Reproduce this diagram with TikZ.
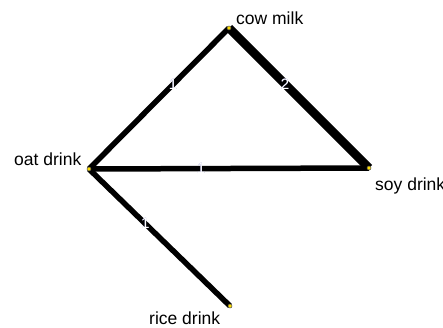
\documentclass[tikz,border=0pt]{standalone}
\usepackage{fontspec}
\setmainfont{Liberation Sans}
\usepackage[outline]{contour}
\contourlength{0.8pt}
\begin{document}
\begin{tikzpicture}[x=1pt,y=-1pt,
  vtx/.style={circle,draw=black!70,fill=yellow!80!orange,inner sep=0pt,minimum size=4pt,line width=0.5pt},
  lbl/.style={font=\fontsize{17.5}{20}\selectfont,inner sep=0pt,anchor=base west},
  e1/.style={line width=5.5pt},
  e2/.style={line width=8.5pt},
  wl/.style={font=\fontsize{15}{17}\selectfont,inner sep=0pt}]
\path[use as bounding box] (0,0) rectangle (443,327);
\clip (0,0) rectangle (443,327);
\coordinate (cow) at (229,28);
\coordinate (oat) at (89,169);
\coordinate (soy) at (369,168);
\coordinate (rice) at (230,306);
\draw[e1] (oat) -- node[wl,pos=0.6]{\contour{gray!60!blue!70}{\textcolor{white}{1}}} (cow);
\draw[e2] (cow) -- node[wl,pos=0.4]{\contour{gray!60!blue!70}{\textcolor{white}{2}}} (soy);
\draw[e1] (oat) -- node[wl,pos=0.4]{\contour{gray!60!blue!70}{\textcolor{white}{1}}} (soy);
\draw[e1] (oat) -- node[wl,pos=0.4]{\contour{gray!60!blue!70}{\textcolor{white}{1}}} (rice);
\node[vtx] (ncow) at (cow) {};
\node[vtx] (noat) at (oat) {};
\node[vtx] (nsoy) at (soy) {};
\node[vtx] (nrice) at (rice) {};
\node[lbl] (tcow) at (236,24) {cow milk};
\node[lbl] (toat) at (14,165) {oat drink};
\node[lbl] (tsoy) at (375,190) {soy drink};
\node[lbl] (trice) at (149,324) {rice drink};
\end{tikzpicture}
\end{document}
